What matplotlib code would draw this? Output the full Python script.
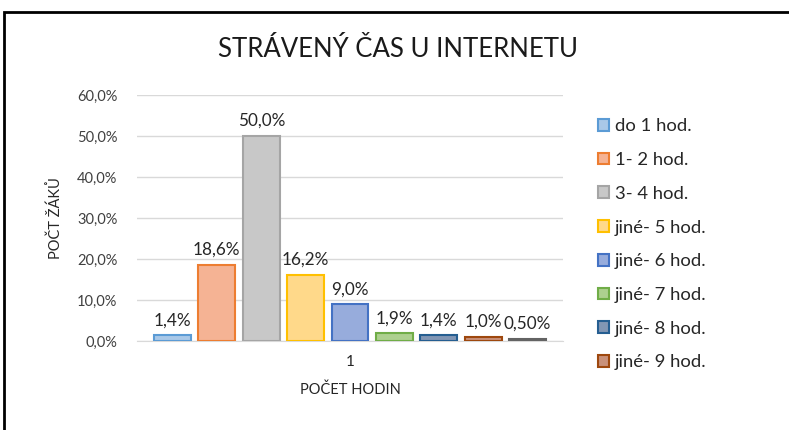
import matplotlib.pyplot as plt
from matplotlib.patches import Rectangle

# data
categories = ["do 1 hod.", "1- 2 hod.", "3- 4 hod.", "jiné- 5 hod.", "jiné- 6 hod.",
              "jiné- 7 hod.", "jiné- 8 hod.", "jiné- 9 hod.", "jiné- 10 hod."]
values = [1.4, 18.6, 50.0, 16.2, 9.0, 1.9, 1.4, 1.0, 0.5]
value_labels = ["1,4%", "18,6%", "50,0%", "16,2%", "9,0%", "1,9%", "1,4%", "1,0%", "0,50%"]
y_ticks = [0, 10, 20, 30, 40, 50, 60]
y_tick_labels = ["0,0%", "10,0%", "20,0%", "30,0%", "40,0%", "50,0%", "60,0%"]

fills = ["#a9c8e8", "#f5b394", "#c8c8c8", "#ffd98a", "#97acdc",
         "#add08f", "#8196b4", "#c9917a", "#8c8c8c"]
edges = ["#5b9bd5", "#ed7d31", "#a5a5a5", "#ffc000", "#4472c4",
         "#70ad47", "#255e91", "#9e480e", "#636363"]

plt.rcParams['font.family'] = ['Lato', 'DejaVu Sans']

fig = plt.figure(figsize=(7.89, 4.30), dpi=100)
ax = fig.add_axes([0.1736, 0.207, 0.540, 0.572])

bars = []
for i, v in enumerate(values):
    b = ax.bar(i, v, width=0.83, color=fills[i], edgecolor=edges[i], linewidth=1.5,
               label=categories[i], zorder=3)
    bars.append(b)
    ax.annotate(value_labels[i], (i, v), xytext=(0, 5), textcoords="offset points",
                ha="center", va="bottom", fontsize=12.3, color="#262626")

ax.set_xlim(-0.8, 8.8)
ax.set_ylim(0, 60)
ax.set_yticks(y_ticks)
ax.set_yticklabels(y_tick_labels, fontsize=10.5, color="#404040")
ax.set_xticks([4])
ax.set_xticklabels(["1"], fontsize=11, color="#262626")
ax.tick_params(length=0, pad=14)
ax.tick_params(axis="x", pad=10)
ax.grid(axis="y", color="#d9d9d9", linewidth=1, zorder=0)
for s in ["top", "right", "left"]:
    ax.spines[s].set_visible(False)
ax.spines["bottom"].set_color("#d9d9d9")

ax.set_xlabel("POČET HODIN", fontsize=10.5, color="#262626", labelpad=10)
ax.set_ylabel("POČT ŽÁKŮ", fontsize=10.5, color="#262626", labelpad=10)

fig.text(0.505, 0.885, "STRÁVENÝ ČAS U INTERNETU", ha="center", va="center",
         fontsize=18.5, color="#1a1a1a")

# legend shows only the first eight entries (last one is cut off)
leg = fig.legend([b[0] for b in bars[:8]], categories[:8], loc="upper left",
                 bbox_to_anchor=(0.749, 0.742), frameon=False, fontsize=13.3,
                 handlelength=0.6, handleheight=0.6, handletextpad=0.3,
                 labelspacing=0.96, borderaxespad=0)
for t in leg.get_texts():
    t.set_color("#262626")

# black frame around the chart (clipped at right and bottom)
fig.patches.append(Rectangle((0.005, -0.05), 1.1, 1.022, transform=fig.transFigure,
                             fill=False, edgecolor="black", linewidth=2))

fig.savefig("out.png", dpi=100)
